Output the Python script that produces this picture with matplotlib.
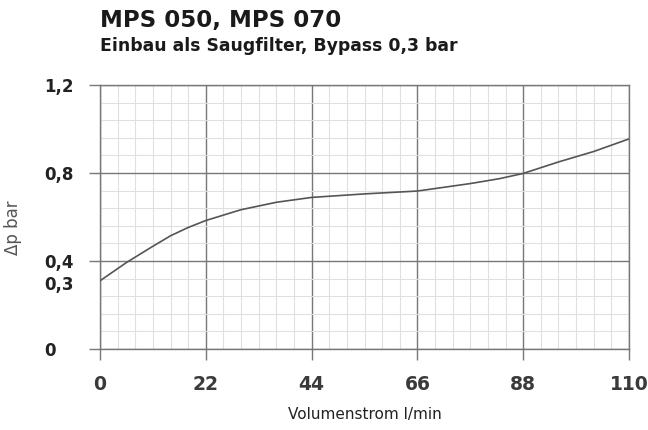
import matplotlib
matplotlib.use("Agg")
import matplotlib.pyplot as plt
import numpy as np

# curve
flow = [0, 5.5, 11, 14.7, 18.3, 22, 29.3, 36.7, 44, 55, 66, 77, 83, 88, 95.3, 102.7, 110]
dp = [0.31, 0.393, 0.467, 0.515, 0.552, 0.584, 0.633, 0.667, 0.689, 0.705, 0.718,
      0.752, 0.774, 0.798, 0.850, 0.898, 0.955]

x_ticks = [0, 22, 44, 66, 88, 110]
y_ticks = [0, 0.3, 0.4, 0.8, 1.2]
y_labels = ["0", "0,3", "0,4", "0,8", "1,2"]

major_c = "#777777"
minor_c = "#e0e0e0"

fig = plt.figure(figsize=(6.48, 4.30), dpi=100)
ax = fig.add_axes([100/648, 1-349/430, 529/648, 264/430])

ax.plot(flow, dp, color="#555555", lw=1.2, zorder=5)

ax.set_xlim(0, 110)
ax.set_ylim(0, 1.2)

ax.set_xticks(x_ticks)
ax.set_xticklabels([str(v) for v in x_ticks], fontfamily="DejaVu Sans",
                   fontweight="bold", fontsize=13.5, color="#3a3a3a")
ax.set_yticks(y_ticks)
ax.set_yticklabels(y_labels, fontfamily="DejaVu Sans", fontweight="bold",
                   fontsize=12, color="#222222", ha="left")
ax.set_xticks(np.arange(0, 110.01, 22/6), minor=True)
ax.set_yticks(np.arange(0, 1.2001, 0.08), minor=True)

ax.tick_params(axis="x", which="major", length=8, width=1, color=major_c, pad=11)
ax.tick_params(axis="y", which="major", length=8, width=1, color=major_c, pad=32)
ax.tick_params(which="minor", length=0)

ax.grid(which="minor", color=minor_c, lw=0.8)
ax.grid(which="major", color=major_c, lw=1.0)
ax.set_axisbelow(True)

# 0,3 is only a label, no line
t03 = ax.yaxis.get_major_ticks()[1]
t03.tick1line.set_visible(False)
t03.gridline.set_visible(False)

for s in ax.spines.values():
    s.set_color(major_c)
    s.set_linewidth(1.0)

ax.set_xlabel("Volumenstrom l/min", fontsize=11, color="#222222", labelpad=9)
ax.set_ylabel("Δp bar", fontsize=12, color="#555555")
ax.yaxis.set_label_coords(-0.147, 0.458)

fig.text(100/648, 1-21/430, "MPS 050, MPS 070", fontfamily="DejaVu Sans", fontweight="bold",
         fontsize=16.5, color="#1a1a1a", va="center", ha="left")
fig.text(100/648, 1-46/430, "Einbau als Saugfilter, Bypass 0,3 bar", fontfamily="DejaVu Sans",
         fontweight="bold", fontsize=12.4, color="#1a1a1a", va="center", ha="left")

plt.savefig("out.png", dpi=100)
